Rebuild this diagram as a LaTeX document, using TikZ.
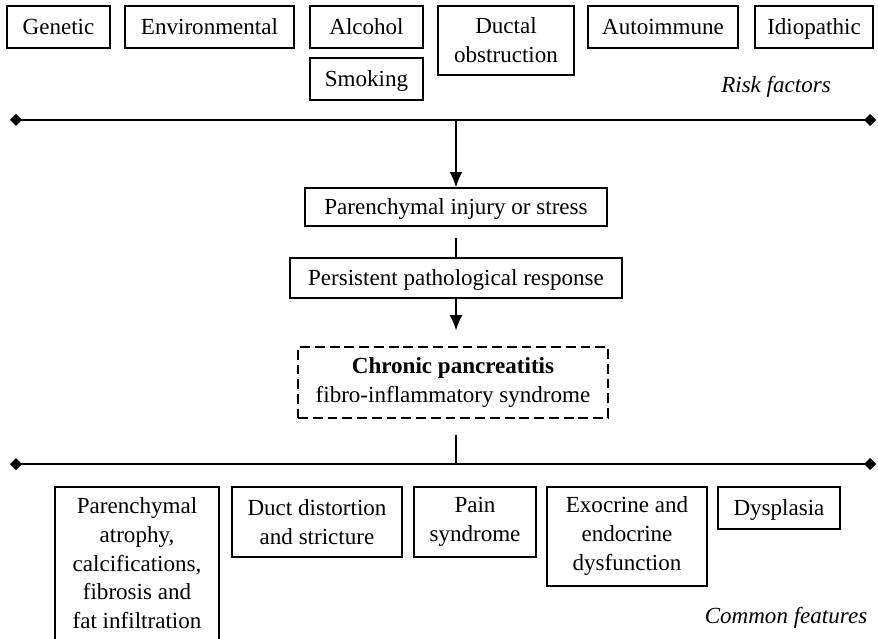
\documentclass[tikz,border=0pt]{standalone}
\usepackage{fontspec}
\setmainfont{Liberation Serif}
\usepackage{tikz}
\usetikzlibrary{arrows.meta,calc}
\tikzset{>={Latex[length=0.38cm,width=0.32cm]}}
\tikzstyle{factor}=[rectangle,draw=black,line width=1.1pt,inner sep=0pt,align=center,anchor=north,minimum height=1.05cm]
\tikzstyle{oneline}=[text height=11pt,text depth=0pt]
\tikzstyle{step box}=[rectangle,draw=black,line width=1.1pt,inner sep=0pt,align=center]
\tikzstyle{axis}=[line width=1.8pt,{Diamond[length=0.3cm,width=0.3cm]}-{Diamond[length=0.3cm,width=0.3cm]}]

\begin{document}
\begin{tikzpicture}[font=\fontsize{16.4}{20.5}\selectfont]
	\useasboundingbox (0,0) rectangle (21.95,-15.975);

	% risk factors
	\node[factor, oneline, minimum width=2.575cm] (gen) at (1.4625,-0.125) {Genetic};
	\node[factor, oneline, minimum width=4.225cm] (env) at (5.2375,-0.125) {Environmental};
	\node[factor, oneline, minimum width=2.825cm] (alc) at (9.1625,-0.125) {Alcohol};
	\node[factor, oneline, minimum width=2.825cm] (smo) at (9.1625,-1.425) {Smoking};
	\node[factor, minimum width=3.4cm, minimum height=1.725cm] (duc) at (12.65,-0.125) {Ductal\\obstruction};
	\node[factor, oneline, minimum width=3.75cm] (aut) at (16.575,-0.125) {Autoimmune};
	\node[factor, oneline, minimum width=2.95cm] (idi) at (20.35,-0.125) {Idiopathic};
	\node (risklab) at (19.4,-2.175) {\itshape Risk factors};

	\coordinate (top1) at (0.25,-3.0);
	\coordinate (top2) at (21.9,-3.0);
	\coordinate (join1) at (11.4,-3.0);
	\draw[axis] (top1) -- (top2);

	% pathway
	\node[step box, oneline, minimum width=7.55cm, minimum height=0.95cm] (inj) at (11.4,-5.175) {Parenchymal injury or stress};
	\node[step box, oneline, minimum width=8.3cm, minimum height=1.0cm] (resp) at (11.4,-6.95) {Persistent pathological response};
	\node[step box, minimum width=7.75cm, minimum height=1.775cm, line width=2pt, dash pattern=on 7pt off 3.5pt] (cp) at (11.325,-9.5625) {\textbf{Chronic pancreatitis}\\fibro-inflammatory syndrome};

	\draw[->, line width=1.1pt] (join1) -- (inj.north);
	\draw[line width=1.1pt, shorten <=0.28cm] (inj.south) -- (resp.north);
	\draw[->, line width=1.1pt, shorten >=0.38cm] (resp.south) -- (resp.south |- cp.north);

	\coordinate (bot1) at (0.25,-11.6);
	\coordinate (bot2) at (21.9,-11.6);
	\coordinate (join2) at (11.4,-11.6);
	\draw[axis] (bot1) -- (bot2);
	\draw[line width=1.1pt, shorten <=0.38cm] (cp.south -| join2) -- (join2);

	% common features
	\node[factor, minimum width=4.1cm, minimum height=3.825cm] (atr) at (3.425,-12.15) {Parenchymal\\atrophy,\\calcifications,\\fibrosis and\\fat infiltration};
	\node[factor, minimum width=4.25cm, minimum height=1.75cm] (duct) at (7.925,-12.15) {Duct distortion\\and stricture};
	\node[factor, minimum width=3.05cm, minimum height=1.75cm] (pain) at (11.875,-12.15) {Pain\\syndrome};
	\node[factor, minimum width=4.0cm, minimum height=2.475cm] (exo) at (15.675,-12.15) {Exocrine and\\endocrine\\dysfunction};
	\node[factor, oneline, minimum width=3.05cm] (dys) at (19.475,-12.15) {Dysplasia};
	\node (commonlab) at (19.65,-15.45) {\itshape Common features};

\end{tikzpicture}
\end{document}
